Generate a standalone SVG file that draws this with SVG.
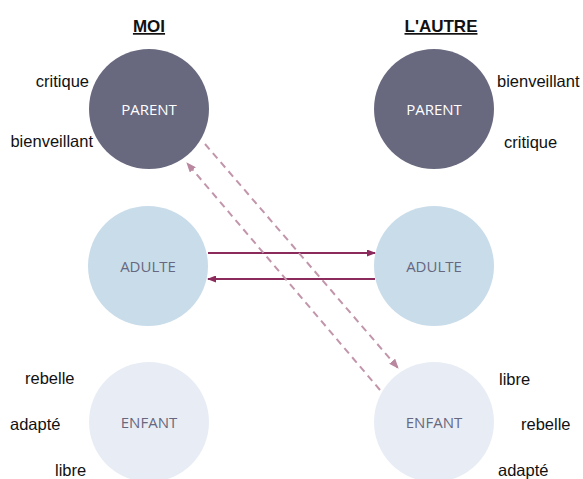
<svg xmlns="http://www.w3.org/2000/svg" width="583" height="479" viewBox="0 0 583 479">
<defs>
<style>
.lbl{font-family:"Liberation Sans",Arial,sans-serif;font-size:16.5px;fill:#111}
.hdr{font-family:"Liberation Sans",Arial,sans-serif;font-size:17px;font-weight:bold;fill:#111;text-decoration:underline}
.in{font-family:"Open Sans","Noto Sans",sans-serif;font-size:15px;text-anchor:middle}
.parent{fill:#68687f}
.adulte{fill:#c9dcea}
.enfant{fill:#e8edf5}
.solid{stroke:#8b2b5c;stroke-width:2;fill:none}
.dash{stroke:#c295ab;stroke-width:2;fill:none;stroke-dasharray:7,5}
</style>
<marker id="ah" markerUnits="userSpaceOnUse" markerWidth="9" markerHeight="7" refX="8" refY="3.5" orient="auto">
<path d="M0,0 L9,3.5 L0,7 Z" fill="#8b2b5c"/>
</marker>
<marker id="ahd" markerUnits="userSpaceOnUse" markerWidth="10" markerHeight="8" refX="9" refY="4" orient="auto">
<path d="M0,0 L10,4 L0,8 Z" fill="#b987a0"/>
</marker>
</defs>
<rect width="583" height="479" fill="#ffffff"/>
<text class="hdr" x="149" y="32" text-anchor="middle">MOI</text>
<text class="hdr" x="441" y="32" text-anchor="middle">L'AUTRE</text>

<g id="moi-parent">
<circle class="parent" cx="149" cy="109" r="60"/>
<text class="in" x="149" y="115" fill="#ffffff">PARENT</text>
</g>
<g id="autre-parent">
<circle class="parent" cx="434" cy="109" r="60"/>
<text class="in" x="434" y="115" fill="#ffffff">PARENT</text>
</g>
<g id="moi-adulte">
<circle class="adulte" cx="148" cy="266" r="60"/>
<text class="in" x="148" y="272" fill="#67677f">ADULTE</text>
</g>
<g id="autre-adulte">
<circle class="adulte" cx="434" cy="266" r="60"/>
<text class="in" x="434" y="272" fill="#67677f">ADULTE</text>
</g>
<g id="moi-enfant">
<circle class="enfant" cx="149" cy="422" r="60"/>
<text class="in" x="149" y="428" fill="#67677f">ENFANT</text>
</g>
<g id="autre-enfant">
<circle class="enfant" cx="434" cy="422" r="60"/>
<text class="in" x="434" y="428" fill="#67677f">ENFANT</text>
</g>

<g id="labels">
<text class="lbl" x="89" y="87" text-anchor="end">critique</text>
<text class="lbl" x="93" y="147" text-anchor="end">bienveillant</text>
<text class="lbl" x="497" y="87">bienveillant</text>
<text class="lbl" x="504" y="148">critique</text>
<text class="lbl" x="25" y="384">rebelle</text>
<text class="lbl" x="10" y="430">adapté</text>
<text class="lbl" x="55" y="476">libre</text>
<text class="lbl" x="499" y="385">libre</text>
<text class="lbl" x="521" y="430">rebelle</text>
<text class="lbl" x="498" y="476">adapté</text>
</g>

<g id="connectors">
<line class="solid" x1="208" y1="253" x2="375" y2="253" marker-end="url(#ah)"/>
<line class="solid" x1="375" y1="279" x2="208" y2="279" marker-end="url(#ah)"/>
<line class="dash" x1="205" y1="144" x2="398" y2="368" marker-end="url(#ahd)"/>
<line class="dash" x1="380" y1="390" x2="187" y2="163" marker-end="url(#ahd)"/>
</g>
</svg>
